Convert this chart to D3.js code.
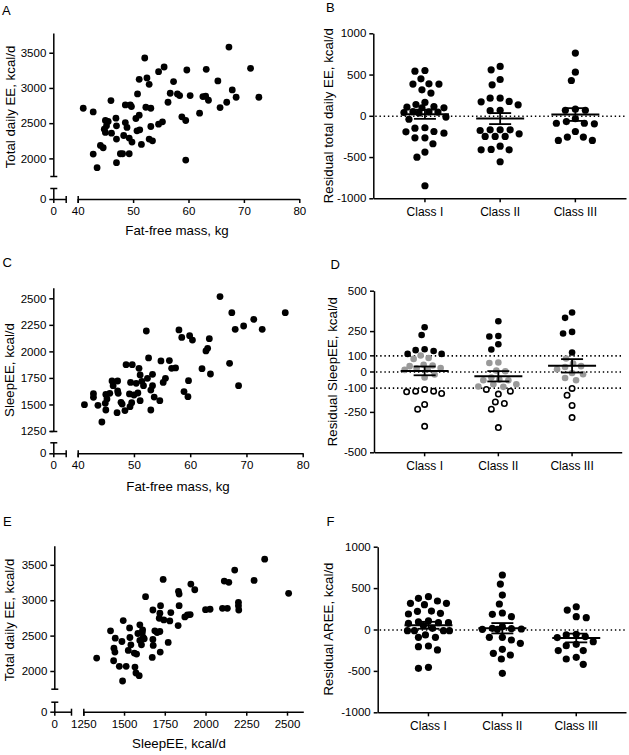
<!DOCTYPE html>
<html><head><meta charset="utf-8">
<script src="https://cdn.jsdelivr.net/npm/d3@7"></script>
<style>
body{margin:0;background:#fff;}
svg{display:block;}
</style></head><body>
<svg id="chart" width="629" height="755"></svg>
<script>
// ---------------- DATA ----------------
const ffmA = [41.0,42.8,42.8,43.5,44.1,44.6,44.8,45.0,45.0,45.5,45.2,46.0,46.1,46.9,47.0,47.0,47.0,47.7,48.1,48.3,48.6,48.6,48.9,49.3,49.3,49.5,49.7,49.8,50.5,50.8,51.1,51.1,50.7,51.2,51.5,52.1,52.3,52.5,52.9,53.2,53.2,52.9,53.5,54.6,55.6,54.6,55.3,56.3,56.7,57.3,58.0,58.4,58.8,59.5,59.5,59.7,60.3,62.0,62.6,63.1,63.2,63.6,65.3,65.7,66.9,67.3,67.9,68.6,71.2,72.7];
const teeA = [2712,2660,2061,1868,2184,2151,2415,2538,2368,2524,2462,2821,2358,2571,2462,2274,1939,2066,2066,2325,2759,2509,2439,2066,2288,2759,2736,2231,2566,2915,2613,3123,2392,2406,2198,3425,2726,3142,3052,2712,2453,2274,2250,3231,3297,2486,2519,2797,2925,3090,2915,2892,2590,2538,1976,3255,2892,2642,2877,2882,3264,2825,3099,2722,2797,3580,2972,2868,3278,2868];

const ffmC = [41.2,42.8,42.8,43.6,44.3,44.9,45.0,45.0,45.2,45.7,46.1,46.3,47.0,47.1,47.1,47.2,47.7,47.9,48.4,48.6,49.2,49.3,49.6,49.7,49.4,50.0,50.4,50.7,50.9,51.1,51.1,51.4,51.7,52.2,52.4,52.6,53.0,53.0,53.3,53.3,53.6,54.6,54.8,55.2,55.6,56.3,56.7,57.4,58.0,58.5,58.9,59.6,59.7,59.9,60.4,62.1,62.8,63.1,63.4,63.6,65.3,67.0,67.4,68.0,68.6,69.5,71.3,72.8,76.9];
const sleepC = [1498,1602,1567,1492,1335,1511,1595,1448,1552,1605,1721,1677,1423,1721,1627,1605,1520,1504,1442,1875,1599,1479,1517,1875,1708,1589,1699,1608,1840,1778,1536,1718,1677,2192,1746,1938,1448,1636,1784,1677,1570,1536,1910,1708,1746,1913,1840,1844,2202,2132,1621,1573,1724,2148,2107,1837,2004,2029,2120,1787,2516,1888,2365,2208,1677,2239,2302,2208,2365];

const sleepE = [1332,1417,1436,1438,1444,1446,1471,1487,1491,1495,1513,1526,1534,1536,1542,1563,1567,1573,1577,1585,1593,1597,1597,1607,1612,1614,1618,1624,1632,1673,1677,1679,1677,1689,1703,1716,1720,1720,1724,1722,1740,1744,1771,1781,1787,1832,1834,1838,1838,1873,1889,1906,1910,1934,2000,2028,2104,2115,2134,2143,2179,2202,2202,2204,2298,2363,2510];
const teeE = [2183,2567,2145,2323,2267,2464,2066,2417,1859,2712,2066,2291,2609,2473,2370,2253,2056,1972,2239,2530,1934,2652,2431,2370,2544,2581,2473,2455,3050,2192,2445,2361,2862,2567,2544,2745,2816,2558,2923,2267,3294,2722,2403,2708,2825,2642,3125,3087,2923,2764,2792,2797,3228,3148,2867,2872,2886,3270,2886,3252,3425,2970,2923,2862,3280,3580,3097];

const classes = ["Class I","Class II","Class III"];

const residTeeI   = [541,549,388,384,448,315,384,275,162,113,97,97,105,137,50,47,35,45,40,-15,-42,-145,-150,-194,-210,-190,-267,-267,-339,-440,-501,-848];
const residTeeII  = [557,598,440,376,214,174,214,170,133,67,62,-170,-170,-170,-178,-218,-250,-250,-250,-368,-412,-412,-408,-557];
const residTeeIII = [760,529,428,80,67,67,-70,-90,-97,-90,-36,-190,-258,-299,-299,-258];

const residSleepI   = [138,127,226,274,109,109,132,78,99,84,14,37,22,33,19,41,10,-19,-37,-111,-122,-136,-126,-122,-204,-233,-339];
const residSleepII  = [311,217,220,169,136,53,56,2,6,-37,-54,-50,-54,-79,-93,-95,-79,-111,-140,-122,-198,-188,-233,-347];
const residSleepIII = [365,332,235,245,118,49,14,28,33,80,-17,-54,-40,-9,-105,-147,-210,-285];

const residAreeI   = [376,396,300,316,316,344,220,187,195,223,103,82,74,82,91,46,14,-14,-14,-14,-14,-66,-94,-94,-207,-247,-199,-469,-457];
const residAreeII  = [658,549,416,308,199,155,183,34,2,6,14,2,10,-94,-167,-127,-94,-239,-308,-356,-288,-529];
const residAreeIII = [235,275,143,155,-66,-98,-86,-58,-179,-147,-195,-255,-255,-336,-356,-420];

const ticksTee = [2000,2500,3000,3500];
const ticksSleep = [1250,1500,1750,2000,2250,2500];
const ticksFfm = [40,50,60,70,80];
const ticksResid1000 = [-1000,-500,0,500,1000];
const ticksResid500 = [-500,-250,-100,0,100,250,500];

// ---------------- DRAWING ----------------
const FONT = "Arial, 'Liberation Sans', Helvetica, sans-serif";
const svg = d3.select("#chart");
svg.append("rect").attr("width",629).attr("height",755).attr("fill","#fff");
const TICK_FS = 11.5, TITLE_FS = 13.3, LETTER_FS = 13;
const SW = 1.5;

function styleAxis(sel, fs){
  sel.attr("font-family", FONT).attr("font-size", fs);
  sel.selectAll(".domain, .tick line").attr("stroke","#000").attr("stroke-width",SW);
  sel.selectAll("text").attr("fill","#000");
}
function line(g,x1,y1,x2,y2,w){
  g.append("line").attr("x1",x1).attr("y1",y1).attr("x2",x2).attr("y2",y2)
   .attr("stroke","#000").attr("stroke-width",w||SW);
}
function label(txt,x,y,fs,opts){
  const t = svg.append("text").attr("x",x).attr("y",y).text(txt)
    .attr("font-family",FONT).attr("font-size",fs).attr("fill","#000");
  if(opts && opts.anchor) t.attr("text-anchor",opts.anchor);
  if(opts && opts.rotate) t.attr("transform",`rotate(-90,${x},${y})`).attr("dominant-baseline","central");
  return t;
}
const fmt = d => String(d);

function scatterPanel(c){
  const g = svg.append("g");
  const y = d3.scaleLinear().domain(c.yDomain).range([c.yBottom, c.yTop]);
  const yLow = d3.scaleLinear().domain([0,1]).range([c.y0, c.yStubTop]);
  const xLow = d3.scaleLinear().domain([0,1]).range([c.x0, c.xStub]);
  const x = d3.scaleLinear().domain(c.xDomain).range([c.xStart, c.xEnd]);

  g.append("g").attr("transform",`translate(${c.x0},0)`)
    .call(d3.axisLeft(y).tickValues(c.yTicks).tickFormat(fmt).tickSize(4).tickSizeOuter(0).tickPadding(3))
    .call(s=>styleAxis(s,TICK_FS));
  g.append("g").attr("transform",`translate(${c.x0},0)`)
    .call(d3.axisLeft(yLow).tickValues([0]).tickFormat(fmt).tickSize(4).tickSizeOuter(0).tickPadding(3))
    .call(s=>styleAxis(s,TICK_FS));
  g.append("g").attr("transform",`translate(0,${c.y0})`)
    .call(d3.axisBottom(xLow).tickValues([0]).tickFormat(fmt).tickSize(4).tickSizeOuter(0).tickPadding(4))
    .call(s=>styleAxis(s,TICK_FS));
  g.append("g").attr("transform",`translate(0,${c.y0})`)
    .call(d3.axisBottom(x).tickValues(c.xTicks).tickFormat(fmt).tickSize(4).tickSizeOuter(0).tickPadding(4))
    .call(s=>styleAxis(s,TICK_FS));

  // break caps
  const ox = c.x0 + 0.5, oy = c.y0 + 0.5;
  line(g, ox-3.5, y.range()[0]+0.5, ox+3.5, y.range()[0]+0.5);
  line(g, ox-3.5, yLow.range()[1]+0.5, ox+3.5, yLow.range()[1]+0.5);
  line(g, xLow.range()[1]+0.5, oy-3.5, xLow.range()[1]+0.5, oy+3.5);
  line(g, x.range()[0]+0.5, oy-3.5, x.range()[0]+0.5, oy+3.5);

  g.append("g").selectAll("circle").data(c.xs.map((v,i)=>[v,c.ys[i]])).join("circle")
    .attr("cx",d=>x(d[0])).attr("cy",d=>y(d[1])).attr("r",3.4).attr("fill","#000");

  label(c.letter, c.letterPos[0], c.letterPos[1], LETTER_FS);
  label(c.yTitle, c.yTitlePos[0], c.yTitlePos[1], TITLE_FS, {anchor:"middle", rotate:true});
  label(c.xTitle, c.xTitlePos[0], c.xTitlePos[1], TITLE_FS, {anchor:"middle"});
}

// Prism-like scatter-dot layout: nearest free horizontal offset, width capped
function swarm(values, y, dist, maxHalf){
  const pts = values.map(v=>({v, py:y(v), dx:0})).sort((a,b)=>a.py-b.py);
  const placed = [];
  pts.forEach(p=>{
    let bestOff = 0, bestScore = -1, found = false;
    for(let k=0;k<=2*maxHalf;k++){
      const off = (k%2 ? -1 : 1) * Math.ceil(k/2);
      if(Math.abs(off) > maxHalf) continue;
      let minD = Infinity;
      placed.forEach(q=>{ const d = Math.hypot(q.dx-off, q.py-p.py); if(d<minD) minD=d; });
      if(minD >= dist){ p.dx = off; found = true; break; }
      if(minD > bestScore){ bestScore = minD; bestOff = off; }
    }
    if(!found) p.dx = bestOff;
    placed.push(p);
  });
  return pts;
}

function dotPanel(c){
  const g = svg.append("g");
  const y = d3.scaleLinear().domain(c.yDomain).range([c.y0, c.yTop]);
  const x = d3.scalePoint().domain(classes).range([c.x0, c.xEnd]).padding(0.68);

  g.append("g").attr("transform",`translate(${c.x0},0)`)
    .call(d3.axisLeft(y).tickValues(c.yTicks).tickFormat(fmt).tickSize(4).tickSizeOuter(0).tickPadding(3))
    .call(s=>styleAxis(s,TICK_FS));
  g.append("g").attr("transform",`translate(0,${c.y0})`)
    .call(d3.axisBottom(x).tickSize(4).tickSizeOuter(0).tickPadding(5))
    .call(s=>styleAxis(s,12));

  c.refs.forEach(r=>{
    g.append("line").attr("x1",c.x0+2).attr("x2",c.xEnd).attr("y1",y(r)+0.5).attr("y2",y(r)+0.5)
      .attr("stroke","#000").attr("stroke-width",1.6).attr("stroke-dasharray","1.4,2.8");
  });

  c.data.forEach((vals,i)=>{
    const cx = x(classes[i]) + 0.5;
    const pts = swarm(vals, y, c.dist, c.maxHalf);
    g.append("g").selectAll("circle").data(pts).join("circle")
      .attr("cx",d=>cx+d.dx).attr("cy",d=>d.py)
      .attr("r",d=> (c.shade && d.v < -100) ? c.r-0.6 : c.r)
      .attr("fill",d=> !c.shade ? "#000" : (d.v > 100 ? "#000" : (d.v >= -100 ? "#999" : "#fff")))
      .attr("stroke",d=> (c.shade && d.v < -100) ? "#000" : "none")
      .attr("stroke-width",1.6);
    const m = d3.mean(vals), sem = d3.deviation(vals)/Math.sqrt(vals.length);
    line(g, cx-24, y(m), cx+24, y(m), 2);
    line(g, cx, y(m-sem), cx, y(m+sem), 1.8);
    line(g, cx-11, y(m-sem), cx+11, y(m-sem), 1.8);
    line(g, cx-11, y(m+sem), cx+11, y(m+sem), 1.8);
  });

  label(c.letter, c.letterPos[0], c.letterPos[1], LETTER_FS);
  label(c.yTitle, c.yTitlePos[0], c.yTitlePos[1], TITLE_FS, {anchor:"middle", rotate:true});
}

scatterPanel({x0:53.3, xStub:65.7, xStart:77.7, xEnd:299.3, xDomain:[40,80], xTicks:ticksFfm,
  y0:199, yStubTop:188, yTop:33, yBottom:176, yDomain:[1750,3780], yTicks:ticksTee,
  xs:ffmA, ys:teeA, letter:"A", letterPos:[2,15],
  yTitle:"Total daily EE, kcal/d", yTitlePos:[10,107], xTitle:"Fat-free mass, kg", xTitlePos:[177,235]});

scatterPanel({x0:53.3, xStub:65.7, xStart:77.7, xEnd:302.7, xDomain:[40,80], xTicks:ticksFfm,
  y0:453.3, yStubTop:442.3, yTop:287.7, yBottom:431, yDomain:[1250,2600], yTicks:ticksSleep,
  xs:ffmC, ys:sleepC, letter:"C", letterPos:[2.5,267],
  yTitle:"SleepEE, kcal/d", yTitlePos:[9.5,370], xTitle:"Fat-free mass, kg", xTitlePos:[178,491]});

scatterPanel({x0:54.3, xStub:71, xStart:83.3, xEnd:303.3, xDomain:[1250,2600], xTicks:ticksSleep,
  y0:711.7, yStubTop:701.7, yTop:545.7, yBottom:688.7, yDomain:[1750,3770], yTicks:ticksTee,
  xs:sleepE, ys:teeE, letter:"E", letterPos:[3,525.7],
  yTitle:"Total daily EE, kcal/d", yTitlePos:[9.5,620], xTitle:"SleepEE, kcal/d", xTitlePos:[179,748]});

dotPanel({x0:373.3, xEnd:626, y0:198.3, yTop:33.3, yDomain:[-1000,1000], yTicks:ticksResid1000,
  refs:[0], data:[residTeeI,residTeeII,residTeeIII], shade:false, dist:9.2, maxHalf:21, r:3.6,
  letter:"B", letterPos:[326,12], yTitle:"Residual total daily EE, kcal/d", yTitlePos:[329,115.7]});

dotPanel({x0:374, xEnd:621.7, y0:452.3, yTop:290.7, yDomain:[-500,500], yTicks:ticksResid500,
  refs:[-100,0,100], data:[residSleepI,residSleepII,residSleepIII], shade:true, dist:8.2, maxHalf:20, r:3.3,
  letter:"D", letterPos:[330.5,269.3], yTitle:"Residual SleepEE, kcal/d", yTitlePos:[333,371.7]});

dotPanel({x0:377.7, xEnd:626, y0:712.3, yTop:546.7, yDomain:[-1000,1000], yTicks:ticksResid1000,
  refs:[0], data:[residAreeI,residAreeII,residAreeIII], shade:false, dist:9.2, maxHalf:21, r:3.6,
  letter:"F", letterPos:[326.5,525.7], yTitle:"Residual AREE, kcal/d", yTitlePos:[328.5,629]});
</script>
</body></html>
